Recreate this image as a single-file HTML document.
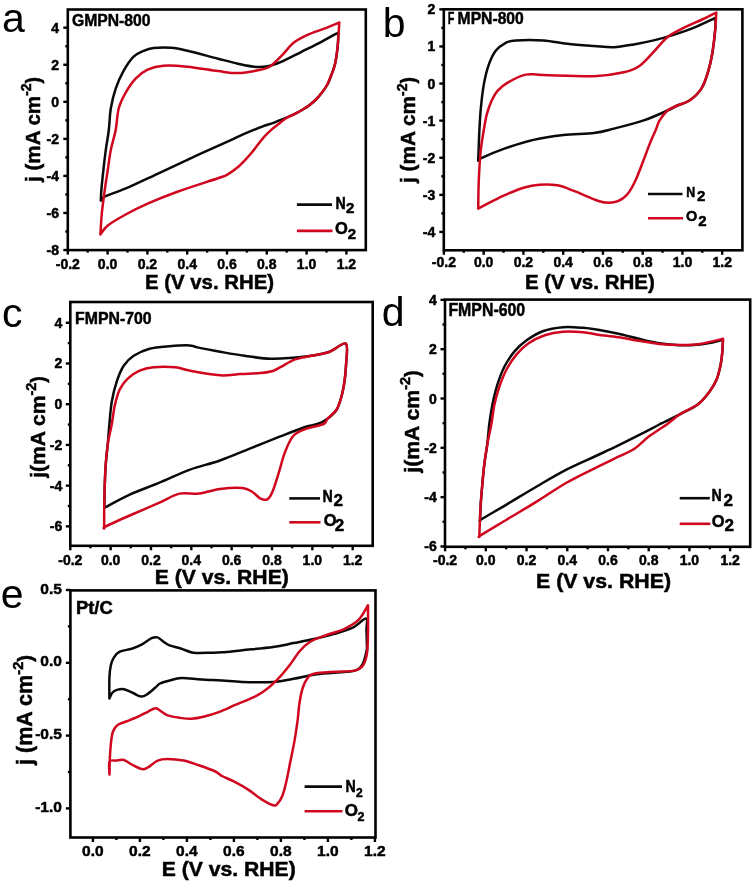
<!DOCTYPE html>
<html><head><meta charset="utf-8"><style>
html,body{margin:0;padding:0;background:#fff;}
body{width:754px;height:882px;overflow:hidden;}
svg{display:block;}
svg{will-change:transform;}
</style></head><body>
<svg width="754" height="882" viewBox="0 0 754 882">
<rect width="754" height="882" fill="#fff"/>
<line x1="67.80" y1="250.10" x2="67.80" y2="254.60" stroke="#000" stroke-width="2.4"/>
<line x1="107.60" y1="250.10" x2="107.60" y2="254.60" stroke="#000" stroke-width="2.4"/>
<line x1="147.40" y1="250.10" x2="147.40" y2="254.60" stroke="#000" stroke-width="2.4"/>
<line x1="187.20" y1="250.10" x2="187.20" y2="254.60" stroke="#000" stroke-width="2.4"/>
<line x1="227.00" y1="250.10" x2="227.00" y2="254.60" stroke="#000" stroke-width="2.4"/>
<line x1="266.80" y1="250.10" x2="266.80" y2="254.60" stroke="#000" stroke-width="2.4"/>
<line x1="306.60" y1="250.10" x2="306.60" y2="254.60" stroke="#000" stroke-width="2.4"/>
<line x1="346.40" y1="250.10" x2="346.40" y2="254.60" stroke="#000" stroke-width="2.4"/>
<line x1="87.70" y1="250.10" x2="87.70" y2="252.60" stroke="#000" stroke-width="2.4"/>
<line x1="127.50" y1="250.10" x2="127.50" y2="252.60" stroke="#000" stroke-width="2.4"/>
<line x1="167.30" y1="250.10" x2="167.30" y2="252.60" stroke="#000" stroke-width="2.4"/>
<line x1="207.10" y1="250.10" x2="207.10" y2="252.60" stroke="#000" stroke-width="2.4"/>
<line x1="246.90" y1="250.10" x2="246.90" y2="252.60" stroke="#000" stroke-width="2.4"/>
<line x1="286.70" y1="250.10" x2="286.70" y2="252.60" stroke="#000" stroke-width="2.4"/>
<line x1="326.50" y1="250.10" x2="326.50" y2="252.60" stroke="#000" stroke-width="2.4"/>
<line x1="67.80" y1="250.04" x2="63.30" y2="250.04" stroke="#000" stroke-width="2.4"/>
<line x1="67.80" y1="212.98" x2="63.30" y2="212.98" stroke="#000" stroke-width="2.4"/>
<line x1="67.80" y1="175.92" x2="63.30" y2="175.92" stroke="#000" stroke-width="2.4"/>
<line x1="67.80" y1="138.86" x2="63.30" y2="138.86" stroke="#000" stroke-width="2.4"/>
<line x1="67.80" y1="101.80" x2="63.30" y2="101.80" stroke="#000" stroke-width="2.4"/>
<line x1="67.80" y1="64.74" x2="63.30" y2="64.74" stroke="#000" stroke-width="2.4"/>
<line x1="67.80" y1="27.68" x2="63.30" y2="27.68" stroke="#000" stroke-width="2.4"/>
<line x1="67.80" y1="231.51" x2="65.30" y2="231.51" stroke="#000" stroke-width="2.4"/>
<line x1="67.80" y1="194.45" x2="65.30" y2="194.45" stroke="#000" stroke-width="2.4"/>
<line x1="67.80" y1="157.39" x2="65.30" y2="157.39" stroke="#000" stroke-width="2.4"/>
<line x1="67.80" y1="120.33" x2="65.30" y2="120.33" stroke="#000" stroke-width="2.4"/>
<line x1="67.80" y1="83.27" x2="65.30" y2="83.27" stroke="#000" stroke-width="2.4"/>
<line x1="67.80" y1="46.21" x2="65.30" y2="46.21" stroke="#000" stroke-width="2.4"/>
<path d="M100.80,200.60 C100.90,198.78 100.97,194.83 101.40,189.70 C101.83,184.57 102.67,176.43 103.40,169.80 C104.13,163.17 104.90,156.53 105.80,149.90 C106.70,143.27 107.97,136.90 108.80,130.00 C109.63,123.10 109.65,115.40 110.80,108.50 C111.95,101.60 113.55,94.90 115.70,88.60 C117.85,82.30 120.72,76.02 123.70,70.70 C126.68,65.38 130.28,60.02 133.60,56.70 C136.92,53.38 140.28,52.25 143.60,50.80 C146.92,49.35 148.87,48.50 153.50,48.00 C158.13,47.50 165.75,47.33 171.40,47.80 C177.05,48.27 179.63,48.98 187.40,50.80 C195.17,52.62 209.58,56.55 218.00,58.70 C226.42,60.85 231.93,62.37 237.90,63.70 C243.87,65.03 248.83,66.27 253.80,66.70 C258.77,67.13 263.05,67.13 267.70,66.30 C272.35,65.47 276.07,64.12 281.70,61.70 C287.33,59.28 294.88,55.12 301.50,51.80 C308.12,48.48 315.25,45.02 321.40,41.80 C327.55,38.58 335.57,34.05 338.40,32.50 C338.30,34.58 338.28,40.08 337.80,45.00 C337.32,49.92 336.63,56.83 335.50,62.00 C334.37,67.17 332.33,72.25 331.00,76.00 C329.67,79.75 329.00,81.75 327.50,84.50 C326.00,87.25 323.92,90.00 322.00,92.50 C320.08,95.00 318.17,97.33 316.00,99.50 C313.83,101.67 311.20,103.83 309.00,105.50 C306.80,107.17 305.15,108.10 302.80,109.50 C300.45,110.90 297.55,112.58 294.90,113.90 C292.25,115.22 290.25,116.00 286.90,117.40 C283.55,118.80 279.03,120.72 274.80,122.30 C270.57,123.88 265.92,125.25 261.50,126.90 C257.08,128.55 252.72,130.32 248.30,132.20 C243.88,134.08 240.05,135.92 235.00,138.20 C229.95,140.48 225.93,142.30 218.00,145.90 C210.07,149.50 197.48,155.15 187.40,159.80 C177.32,164.45 167.45,169.15 157.50,173.80 C147.55,178.45 136.48,183.90 127.70,187.70 C118.92,191.50 109.28,194.45 104.80,196.60 C100.32,198.75 101.47,199.93 100.80,200.60" fill="none" stroke="#0a0a0a" stroke-width="2.5" stroke-linejoin="round" stroke-linecap="round"/>
<path d="M100.40,234.40 C100.63,230.92 101.07,220.95 101.80,213.50 C102.53,206.05 103.80,196.98 104.80,189.70 C105.80,182.42 106.80,176.43 107.80,169.80 C108.80,163.17 109.48,156.53 110.80,149.90 C112.12,143.27 114.38,136.90 115.70,130.00 C117.02,123.10 117.03,114.73 118.70,108.50 C120.37,102.27 122.88,97.58 125.70,92.60 C128.52,87.62 131.95,82.42 135.60,78.60 C139.25,74.78 142.95,71.85 147.60,69.70 C152.25,67.55 156.87,66.20 163.50,65.70 C170.13,65.20 178.32,65.80 187.40,66.70 C196.48,67.60 209.58,70.03 218.00,71.10 C226.42,72.17 231.27,73.23 237.90,73.10 C244.53,72.97 252.50,71.37 257.80,70.30 C263.10,69.23 265.72,69.13 269.70,66.70 C273.68,64.27 277.72,59.68 281.70,55.70 C285.68,51.72 289.30,46.27 293.60,42.80 C297.90,39.33 302.53,37.22 307.50,34.90 C312.47,32.58 318.10,30.97 323.40,28.90 C328.70,26.83 336.65,23.57 339.30,22.50 C339.17,24.58 338.82,30.62 338.50,35.00 C338.18,39.38 338.08,43.52 337.40,48.80 C336.72,54.08 335.63,61.83 334.40,66.70 C333.17,71.57 331.23,74.95 330.00,78.00 C328.77,81.05 328.33,82.58 327.00,85.00 C325.67,87.42 323.83,90.08 322.00,92.50 C320.17,94.92 318.17,97.33 316.00,99.50 C313.83,101.67 311.20,103.83 309.00,105.50 C306.80,107.17 305.15,108.10 302.80,109.50 C300.45,110.90 297.55,112.52 294.90,113.90 C292.25,115.28 289.70,116.07 286.90,117.80 C284.10,119.53 280.67,122.33 278.10,124.30 C275.53,126.27 273.72,127.62 271.50,129.60 C269.28,131.58 267.02,133.77 264.80,136.20 C262.58,138.63 260.40,141.43 258.20,144.20 C256.00,146.97 253.80,150.15 251.60,152.80 C249.40,155.45 247.22,157.78 245.00,160.10 C242.78,162.42 241.25,164.28 238.30,166.70 C235.35,169.12 230.68,172.68 227.30,174.60 C223.92,176.52 226.32,175.35 218.00,178.20 C209.68,181.05 189.13,187.47 177.40,191.70 C165.67,195.93 156.22,199.80 147.60,203.60 C138.98,207.40 132.33,210.85 125.70,214.50 C119.07,218.15 112.02,222.18 107.80,225.50 C103.58,228.82 101.63,232.92 100.40,234.40" fill="none" stroke="#d0061f" stroke-width="2.5" stroke-linejoin="round" stroke-linecap="round"/>
<rect x="67.80" y="9.50" width="298.00" height="240.60" fill="none" stroke="#000" stroke-width="2.6"/>
<text class="xl" x="67.80" y="268.60" text-anchor="middle" font-family='"Liberation Sans", sans-serif' font-weight="bold" stroke="#000" stroke-width="0.5" font-size="14">-0.2</text>
<text class="xl" x="107.60" y="268.60" text-anchor="middle" font-family='"Liberation Sans", sans-serif' font-weight="bold" stroke="#000" stroke-width="0.5" font-size="14">0.0</text>
<text class="xl" x="147.40" y="268.60" text-anchor="middle" font-family='"Liberation Sans", sans-serif' font-weight="bold" stroke="#000" stroke-width="0.5" font-size="14">0.2</text>
<text class="xl" x="187.20" y="268.60" text-anchor="middle" font-family='"Liberation Sans", sans-serif' font-weight="bold" stroke="#000" stroke-width="0.5" font-size="14">0.4</text>
<text class="xl" x="227.00" y="268.60" text-anchor="middle" font-family='"Liberation Sans", sans-serif' font-weight="bold" stroke="#000" stroke-width="0.5" font-size="14">0.6</text>
<text class="xl" x="266.80" y="268.60" text-anchor="middle" font-family='"Liberation Sans", sans-serif' font-weight="bold" stroke="#000" stroke-width="0.5" font-size="14">0.8</text>
<text class="xl" x="306.60" y="268.60" text-anchor="middle" font-family='"Liberation Sans", sans-serif' font-weight="bold" stroke="#000" stroke-width="0.5" font-size="14">1.0</text>
<text class="xl" x="346.40" y="268.60" text-anchor="middle" font-family='"Liberation Sans", sans-serif' font-weight="bold" stroke="#000" stroke-width="0.5" font-size="14">1.2</text>
<text class="yl" x="59.00" y="255.04" text-anchor="end" font-family='"Liberation Sans", sans-serif' font-weight="bold" stroke="#000" stroke-width="0.5" font-size="14">-8</text>
<text class="yl" x="59.00" y="217.98" text-anchor="end" font-family='"Liberation Sans", sans-serif' font-weight="bold" stroke="#000" stroke-width="0.5" font-size="14">-6</text>
<text class="yl" x="59.00" y="180.92" text-anchor="end" font-family='"Liberation Sans", sans-serif' font-weight="bold" stroke="#000" stroke-width="0.5" font-size="14">-4</text>
<text class="yl" x="59.00" y="143.86" text-anchor="end" font-family='"Liberation Sans", sans-serif' font-weight="bold" stroke="#000" stroke-width="0.5" font-size="14">-2</text>
<text class="yl" x="59.00" y="106.80" text-anchor="end" font-family='"Liberation Sans", sans-serif' font-weight="bold" stroke="#000" stroke-width="0.5" font-size="14">0</text>
<text class="yl" x="59.00" y="69.74" text-anchor="end" font-family='"Liberation Sans", sans-serif' font-weight="bold" stroke="#000" stroke-width="0.5" font-size="14">2</text>
<text class="yl" x="59.00" y="32.68" text-anchor="end" font-family='"Liberation Sans", sans-serif' font-weight="bold" stroke="#000" stroke-width="0.5" font-size="14">4</text>
<text class="xt" x="144.90" y="288.80" font-family='"Liberation Sans", sans-serif' font-weight="bold" stroke="#000" stroke-width="0.5" font-size="21" textLength="129.2" lengthAdjust="spacingAndGlyphs">E (V vs. RHE)</text>
<text class="yt" transform="translate(40.10,181.90) rotate(-90)" x="0" y="0" font-family='"Liberation Sans", sans-serif' font-weight="bold" stroke="#000" stroke-width="0.5" font-size="20.8" textLength="104.8" lengthAdjust="spacingAndGlyphs">j (mA cm<tspan font-size="14.1" dy="-8.8">-2</tspan><tspan font-size="19.3" dy="8.8">)</tspan></text>
<text class="it" x="72.00" y="25.80" font-family='"Liberation Sans", sans-serif' font-weight="bold" stroke="#000" stroke-width="0.5" font-size="17.2" textLength="78.5" lengthAdjust="spacingAndGlyphs" xml:space="preserve">GMPN-800</text>
<line x1="296.90" y1="204.60" x2="332.00" y2="204.60" stroke="#0a0a0a" stroke-width="2.6"/>
<line x1="296.90" y1="230.90" x2="332.50" y2="230.90" stroke="#d0061f" stroke-width="2.6"/>
<text class="lg" x="335.40" y="209.20" font-family='"Liberation Sans", sans-serif' font-weight="bold" stroke="#000" stroke-width="0.5" font-size="16.5" textLength="10.25" lengthAdjust="spacingAndGlyphs">N</text>
<text class="lg" x="346.10" y="213.00" font-family='"Liberation Sans", sans-serif' font-weight="bold" stroke="#000" stroke-width="0.5" font-size="15">2</text>
<text class="lg" x="335.00" y="234.30" font-family='"Liberation Sans", sans-serif' font-weight="bold" stroke="#000" stroke-width="0.5" font-size="16.5">O</text>
<text class="lg" x="347.70" y="239.20" font-family='"Liberation Sans", sans-serif' font-weight="bold" stroke="#000" stroke-width="0.5" font-size="15">2</text>
<text class="pl" x="2.00" y="32.20" font-family='"Liberation Sans", sans-serif' font-size="41">a</text>
<line x1="443.90" y1="250.30" x2="443.90" y2="254.80" stroke="#000" stroke-width="2.4"/>
<line x1="483.66" y1="250.30" x2="483.66" y2="254.80" stroke="#000" stroke-width="2.4"/>
<line x1="523.42" y1="250.30" x2="523.42" y2="254.80" stroke="#000" stroke-width="2.4"/>
<line x1="563.18" y1="250.30" x2="563.18" y2="254.80" stroke="#000" stroke-width="2.4"/>
<line x1="602.94" y1="250.30" x2="602.94" y2="254.80" stroke="#000" stroke-width="2.4"/>
<line x1="642.70" y1="250.30" x2="642.70" y2="254.80" stroke="#000" stroke-width="2.4"/>
<line x1="682.46" y1="250.30" x2="682.46" y2="254.80" stroke="#000" stroke-width="2.4"/>
<line x1="722.22" y1="250.30" x2="722.22" y2="254.80" stroke="#000" stroke-width="2.4"/>
<line x1="463.78" y1="250.30" x2="463.78" y2="252.80" stroke="#000" stroke-width="2.4"/>
<line x1="503.54" y1="250.30" x2="503.54" y2="252.80" stroke="#000" stroke-width="2.4"/>
<line x1="543.30" y1="250.30" x2="543.30" y2="252.80" stroke="#000" stroke-width="2.4"/>
<line x1="583.06" y1="250.30" x2="583.06" y2="252.80" stroke="#000" stroke-width="2.4"/>
<line x1="622.82" y1="250.30" x2="622.82" y2="252.80" stroke="#000" stroke-width="2.4"/>
<line x1="662.58" y1="250.30" x2="662.58" y2="252.80" stroke="#000" stroke-width="2.4"/>
<line x1="702.34" y1="250.30" x2="702.34" y2="252.80" stroke="#000" stroke-width="2.4"/>
<line x1="443.80" y1="231.95" x2="439.30" y2="231.95" stroke="#000" stroke-width="2.4"/>
<line x1="443.80" y1="194.85" x2="439.30" y2="194.85" stroke="#000" stroke-width="2.4"/>
<line x1="443.80" y1="157.75" x2="439.30" y2="157.75" stroke="#000" stroke-width="2.4"/>
<line x1="443.80" y1="120.65" x2="439.30" y2="120.65" stroke="#000" stroke-width="2.4"/>
<line x1="443.80" y1="83.55" x2="439.30" y2="83.55" stroke="#000" stroke-width="2.4"/>
<line x1="443.80" y1="46.45" x2="439.30" y2="46.45" stroke="#000" stroke-width="2.4"/>
<line x1="443.80" y1="9.35" x2="439.30" y2="9.35" stroke="#000" stroke-width="2.4"/>
<line x1="443.80" y1="213.40" x2="441.30" y2="213.40" stroke="#000" stroke-width="2.4"/>
<line x1="443.80" y1="176.30" x2="441.30" y2="176.30" stroke="#000" stroke-width="2.4"/>
<line x1="443.80" y1="139.20" x2="441.30" y2="139.20" stroke="#000" stroke-width="2.4"/>
<line x1="443.80" y1="102.10" x2="441.30" y2="102.10" stroke="#000" stroke-width="2.4"/>
<line x1="443.80" y1="65.00" x2="441.30" y2="65.00" stroke="#000" stroke-width="2.4"/>
<line x1="443.80" y1="27.90" x2="441.30" y2="27.90" stroke="#000" stroke-width="2.4"/>
<path d="M478.20,160.80 C478.30,158.17 478.60,150.13 478.80,145.00 C479.00,139.87 479.07,136.08 479.40,130.00 C479.73,123.92 480.07,116.07 480.80,108.50 C481.53,100.93 482.47,91.90 483.80,84.60 C485.13,77.30 486.82,70.33 488.80,64.70 C490.78,59.07 492.88,54.45 495.70,50.80 C498.52,47.15 502.38,44.53 505.70,42.80 C509.02,41.07 509.30,40.80 515.60,40.40 C521.90,40.00 534.88,39.83 543.50,40.40 C552.12,40.97 558.88,42.87 567.30,43.80 C575.72,44.73 586.23,45.43 594.00,46.00 C601.77,46.57 607.27,47.47 613.90,47.20 C620.53,46.93 627.17,45.53 633.80,44.40 C640.43,43.27 647.07,41.98 653.70,40.40 C660.33,38.82 666.97,36.98 673.60,34.90 C680.23,32.82 686.55,30.72 693.50,27.90 C700.45,25.08 711.67,19.65 715.30,18.00 C715.30,19.82 715.78,23.10 715.30,28.90 C714.82,34.70 713.55,45.83 712.40,52.80 C711.25,59.77 710.23,64.73 708.40,70.70 C706.57,76.67 704.55,83.63 701.40,88.60 C698.25,93.57 693.48,97.68 689.50,100.50 C685.52,103.32 681.15,103.83 677.50,105.50 C673.85,107.17 673.23,108.02 667.60,110.50 C661.97,112.98 652.65,117.38 643.70,120.40 C634.75,123.42 622.18,126.50 613.90,128.60 C605.62,130.70 602.42,131.93 594.00,133.00 C585.58,134.07 573.48,133.85 563.40,135.00 C553.32,136.15 543.45,137.58 533.50,139.90 C523.55,142.22 512.32,145.90 503.70,148.90 C495.08,151.90 486.05,155.92 481.80,157.90 C477.55,159.88 478.80,160.32 478.20,160.80" fill="none" stroke="#0a0a0a" stroke-width="2.5" stroke-linejoin="round" stroke-linecap="round"/>
<path d="M478.20,208.60 C478.30,203.78 478.37,189.48 478.80,179.70 C479.23,169.92 479.97,158.18 480.80,149.90 C481.63,141.62 482.80,135.92 483.80,130.00 C484.80,124.08 485.48,119.32 486.80,114.40 C488.12,109.48 489.88,104.47 491.70,100.50 C493.52,96.53 495.03,93.58 497.70,90.60 C500.37,87.62 503.05,85.27 507.70,82.60 C512.35,79.93 519.63,75.87 525.60,74.60 C531.57,73.33 532.10,74.73 543.50,75.00 C554.90,75.27 580.62,76.65 594.00,76.20 C607.38,75.75 616.17,74.05 623.80,72.30 C631.43,70.55 634.82,69.12 639.80,65.70 C644.78,62.28 649.07,56.60 653.70,51.80 C658.33,47.00 662.63,40.88 667.60,36.90 C672.57,32.92 677.53,30.88 683.50,27.90 C689.47,24.92 697.93,21.55 703.40,19.00 C708.87,16.45 714.15,13.67 716.30,12.60 C716.13,15.32 715.95,22.20 715.30,28.90 C714.65,35.60 713.55,45.83 712.40,52.80 C711.25,59.77 710.23,64.73 708.40,70.70 C706.57,76.67 704.55,83.63 701.40,88.60 C698.25,93.57 693.48,97.68 689.50,100.50 C685.52,103.32 681.15,103.83 677.50,105.50 C673.85,107.17 670.58,108.02 667.60,110.50 C664.62,112.98 661.58,117.15 659.60,120.40 C657.62,123.65 657.35,126.08 655.70,130.00 C654.05,133.92 651.70,138.93 649.70,143.90 C647.70,148.87 646.02,153.83 643.70,159.80 C641.38,165.77 638.45,174.05 635.80,179.70 C633.15,185.35 630.78,190.12 627.80,193.70 C624.82,197.28 621.55,199.72 617.90,201.20 C614.25,202.68 609.88,202.92 605.90,202.60 C601.92,202.28 599.43,201.28 594.00,199.30 C588.57,197.32 579.40,193.03 573.30,190.70 C567.20,188.37 563.03,186.30 557.40,185.30 C551.77,184.30 545.13,184.30 539.50,184.70 C533.87,185.10 529.57,185.88 523.60,187.70 C517.63,189.52 510.33,192.62 503.70,195.60 C497.07,198.58 488.05,203.43 483.80,205.60 C479.55,207.77 479.13,208.10 478.20,208.60" fill="none" stroke="#d0061f" stroke-width="2.5" stroke-linejoin="round" stroke-linecap="round"/>
<rect x="443.80" y="9.30" width="298.60" height="241.00" fill="none" stroke="#000" stroke-width="2.6"/>
<text class="xl" x="443.90" y="266.90" text-anchor="middle" font-family='"Liberation Sans", sans-serif' font-weight="bold" stroke="#000" stroke-width="0.5" font-size="14">-0.2</text>
<text class="xl" x="483.66" y="266.90" text-anchor="middle" font-family='"Liberation Sans", sans-serif' font-weight="bold" stroke="#000" stroke-width="0.5" font-size="14">0.0</text>
<text class="xl" x="523.42" y="266.90" text-anchor="middle" font-family='"Liberation Sans", sans-serif' font-weight="bold" stroke="#000" stroke-width="0.5" font-size="14">0.2</text>
<text class="xl" x="563.18" y="266.90" text-anchor="middle" font-family='"Liberation Sans", sans-serif' font-weight="bold" stroke="#000" stroke-width="0.5" font-size="14">0.4</text>
<text class="xl" x="602.94" y="266.90" text-anchor="middle" font-family='"Liberation Sans", sans-serif' font-weight="bold" stroke="#000" stroke-width="0.5" font-size="14">0.6</text>
<text class="xl" x="642.70" y="266.90" text-anchor="middle" font-family='"Liberation Sans", sans-serif' font-weight="bold" stroke="#000" stroke-width="0.5" font-size="14">0.8</text>
<text class="xl" x="682.46" y="266.90" text-anchor="middle" font-family='"Liberation Sans", sans-serif' font-weight="bold" stroke="#000" stroke-width="0.5" font-size="14">1.0</text>
<text class="xl" x="722.22" y="266.90" text-anchor="middle" font-family='"Liberation Sans", sans-serif' font-weight="bold" stroke="#000" stroke-width="0.5" font-size="14">1.2</text>
<text class="yl" x="435.20" y="236.95" text-anchor="end" font-family='"Liberation Sans", sans-serif' font-weight="bold" stroke="#000" stroke-width="0.5" font-size="14">-4</text>
<text class="yl" x="435.20" y="199.85" text-anchor="end" font-family='"Liberation Sans", sans-serif' font-weight="bold" stroke="#000" stroke-width="0.5" font-size="14">-3</text>
<text class="yl" x="435.20" y="162.75" text-anchor="end" font-family='"Liberation Sans", sans-serif' font-weight="bold" stroke="#000" stroke-width="0.5" font-size="14">-2</text>
<text class="yl" x="435.20" y="125.65" text-anchor="end" font-family='"Liberation Sans", sans-serif' font-weight="bold" stroke="#000" stroke-width="0.5" font-size="14">-1</text>
<text class="yl" x="435.20" y="88.55" text-anchor="end" font-family='"Liberation Sans", sans-serif' font-weight="bold" stroke="#000" stroke-width="0.5" font-size="14">0</text>
<text class="yl" x="435.20" y="51.45" text-anchor="end" font-family='"Liberation Sans", sans-serif' font-weight="bold" stroke="#000" stroke-width="0.5" font-size="14">1</text>
<text class="yl" x="435.20" y="14.35" text-anchor="end" font-family='"Liberation Sans", sans-serif' font-weight="bold" stroke="#000" stroke-width="0.5" font-size="14">2</text>
<text class="xt" x="524.90" y="288.80" font-family='"Liberation Sans", sans-serif' font-weight="bold" stroke="#000" stroke-width="0.5" font-size="21" textLength="129.9" lengthAdjust="spacingAndGlyphs">E (V vs. RHE)</text>
<text class="yt" transform="translate(415.40,183.00) rotate(-90)" x="0" y="0" font-family='"Liberation Sans", sans-serif' font-weight="bold" stroke="#000" stroke-width="0.5" font-size="20.8" textLength="106.0" lengthAdjust="spacingAndGlyphs">j (mA cm<tspan font-size="14.1" dy="-8.8">-2</tspan><tspan font-size="19.3" dy="8.8">)</tspan></text>
<text class="it" x="447.80" y="23.80" font-family='"Liberation Sans", sans-serif' font-weight="bold" stroke="#000" stroke-width="0.5" font-size="17" textLength="6.6" lengthAdjust="spacingAndGlyphs" xml:space="preserve">F</text>
<text class="it" x="457.60" y="23.80" font-family='"Liberation Sans", sans-serif' font-weight="bold" stroke="#000" stroke-width="0.5" font-size="17" textLength="66.2" lengthAdjust="spacingAndGlyphs" xml:space="preserve">MPN-800</text>
<line x1="648.00" y1="194.00" x2="682.50" y2="194.00" stroke="#0a0a0a" stroke-width="2.6"/>
<line x1="648.00" y1="218.20" x2="683.00" y2="218.20" stroke="#d0061f" stroke-width="2.6"/>
<text class="lg" x="686.30" y="197.30" font-family='"Liberation Sans", sans-serif' font-weight="bold" stroke="#000" stroke-width="0.5" font-size="14.5" textLength="9.00" lengthAdjust="spacingAndGlyphs">N</text>
<text class="lg" x="697.10" y="201.40" font-family='"Liberation Sans", sans-serif' font-weight="bold" stroke="#000" stroke-width="0.5" font-size="15">2</text>
<text class="lg" x="686.00" y="221.40" font-family='"Liberation Sans", sans-serif' font-weight="bold" stroke="#000" stroke-width="0.5" font-size="14.5">O</text>
<text class="lg" x="698.20" y="225.60" font-family='"Liberation Sans", sans-serif' font-weight="bold" stroke="#000" stroke-width="0.5" font-size="15">2</text>
<text class="pl" x="382.80" y="36.70" font-family='"Liberation Sans", sans-serif' font-size="41">b</text>
<line x1="70.30" y1="545.80" x2="70.30" y2="550.30" stroke="#000" stroke-width="2.4"/>
<line x1="110.64" y1="545.80" x2="110.64" y2="550.30" stroke="#000" stroke-width="2.4"/>
<line x1="150.98" y1="545.80" x2="150.98" y2="550.30" stroke="#000" stroke-width="2.4"/>
<line x1="191.32" y1="545.80" x2="191.32" y2="550.30" stroke="#000" stroke-width="2.4"/>
<line x1="231.66" y1="545.80" x2="231.66" y2="550.30" stroke="#000" stroke-width="2.4"/>
<line x1="272.00" y1="545.80" x2="272.00" y2="550.30" stroke="#000" stroke-width="2.4"/>
<line x1="312.34" y1="545.80" x2="312.34" y2="550.30" stroke="#000" stroke-width="2.4"/>
<line x1="352.68" y1="545.80" x2="352.68" y2="550.30" stroke="#000" stroke-width="2.4"/>
<line x1="90.47" y1="545.80" x2="90.47" y2="548.30" stroke="#000" stroke-width="2.4"/>
<line x1="130.81" y1="545.80" x2="130.81" y2="548.30" stroke="#000" stroke-width="2.4"/>
<line x1="171.15" y1="545.80" x2="171.15" y2="548.30" stroke="#000" stroke-width="2.4"/>
<line x1="211.49" y1="545.80" x2="211.49" y2="548.30" stroke="#000" stroke-width="2.4"/>
<line x1="251.83" y1="545.80" x2="251.83" y2="548.30" stroke="#000" stroke-width="2.4"/>
<line x1="292.17" y1="545.80" x2="292.17" y2="548.30" stroke="#000" stroke-width="2.4"/>
<line x1="332.51" y1="545.80" x2="332.51" y2="548.30" stroke="#000" stroke-width="2.4"/>
<line x1="70.30" y1="526.36" x2="65.80" y2="526.36" stroke="#000" stroke-width="2.4"/>
<line x1="70.30" y1="485.64" x2="65.80" y2="485.64" stroke="#000" stroke-width="2.4"/>
<line x1="70.30" y1="444.92" x2="65.80" y2="444.92" stroke="#000" stroke-width="2.4"/>
<line x1="70.30" y1="404.20" x2="65.80" y2="404.20" stroke="#000" stroke-width="2.4"/>
<line x1="70.30" y1="363.48" x2="65.80" y2="363.48" stroke="#000" stroke-width="2.4"/>
<line x1="70.30" y1="322.76" x2="65.80" y2="322.76" stroke="#000" stroke-width="2.4"/>
<line x1="70.30" y1="506.00" x2="67.80" y2="506.00" stroke="#000" stroke-width="2.4"/>
<line x1="70.30" y1="465.28" x2="67.80" y2="465.28" stroke="#000" stroke-width="2.4"/>
<line x1="70.30" y1="424.56" x2="67.80" y2="424.56" stroke="#000" stroke-width="2.4"/>
<line x1="70.30" y1="383.84" x2="67.80" y2="383.84" stroke="#000" stroke-width="2.4"/>
<line x1="70.30" y1="343.12" x2="67.80" y2="343.12" stroke="#000" stroke-width="2.4"/>
<path d="M104.30,508.00 C104.38,503.95 104.55,491.07 104.80,483.70 C105.05,476.33 105.30,470.43 105.80,463.80 C106.30,457.17 107.20,450.53 107.80,443.90 C108.40,437.27 108.73,431.07 109.40,424.00 C110.07,416.93 110.58,408.57 111.80,401.50 C113.02,394.43 114.72,387.57 116.70,381.60 C118.68,375.63 120.87,370.02 123.70,365.70 C126.53,361.38 129.38,358.53 133.70,355.70 C138.02,352.87 143.63,350.28 149.60,348.70 C155.57,347.12 162.87,346.75 169.50,346.20 C176.13,345.65 184.77,345.20 189.40,345.40 C194.03,345.60 192.20,346.35 197.30,347.40 C202.40,348.45 212.15,350.30 220.00,351.70 C227.85,353.10 235.95,354.62 244.40,355.80 C252.85,356.98 262.58,358.47 270.70,358.80 C278.82,359.13 286.33,358.30 293.10,357.80 C299.87,357.30 305.22,356.82 311.30,355.80 C317.38,354.78 323.85,353.73 329.60,351.70 C335.35,349.67 343.03,341.73 345.80,343.60 C348.57,345.47 346.13,359.68 346.20,362.90 C345.97,365.60 345.53,373.70 344.80,379.10 C344.07,384.50 343.15,390.23 341.80,395.30 C340.45,400.37 339.08,405.60 336.70,409.50 C334.32,413.40 330.72,416.28 327.50,418.70 C324.28,421.12 321.12,422.62 317.40,424.00 C313.68,425.38 311.28,424.97 305.20,427.00 C299.12,429.03 290.03,432.63 280.90,436.20 C271.77,439.77 260.55,444.35 250.40,448.40 C240.25,452.45 230.17,456.93 220.00,460.50 C209.83,464.07 199.48,466.10 189.40,469.80 C179.32,473.50 169.45,478.57 159.50,482.70 C149.55,486.83 138.48,490.62 129.70,494.60 C120.92,498.58 111.03,504.37 106.80,506.60 C102.57,508.83 104.72,507.77 104.30,508.00" fill="none" stroke="#0a0a0a" stroke-width="2.5" stroke-linejoin="round" stroke-linecap="round"/>
<path d="M104.20,528.40 C104.20,524.92 104.10,514.95 104.20,507.50 C104.30,500.05 104.53,490.98 104.80,483.70 C105.07,476.42 105.30,470.43 105.80,463.80 C106.30,457.17 106.80,450.53 107.80,443.90 C108.80,437.27 110.63,430.42 111.80,424.00 C112.97,417.58 113.48,411.15 114.80,405.40 C116.12,399.65 117.55,393.97 119.70,389.50 C121.85,385.03 124.38,381.75 127.70,378.60 C131.02,375.45 135.30,372.50 139.60,370.60 C143.90,368.70 147.53,367.77 153.50,367.20 C159.47,366.63 169.42,366.63 175.40,367.20 C181.38,367.77 181.97,369.25 189.40,370.60 C196.83,371.95 211.52,374.73 220.00,375.30 C228.48,375.87 233.53,374.38 240.30,374.00 C247.07,373.62 255.18,373.50 260.60,373.00 C266.02,372.50 269.42,372.02 272.80,371.00 C276.18,369.98 277.18,368.83 280.90,366.90 C284.62,364.97 290.03,361.25 295.10,359.40 C300.17,357.55 305.55,357.08 311.30,355.80 C317.05,354.52 323.85,353.73 329.60,351.70 C335.35,349.67 343.03,341.73 345.80,343.60 C348.57,345.47 346.13,359.68 346.20,362.90 C345.97,365.60 345.53,373.70 344.80,379.10 C344.07,384.50 343.15,390.23 341.80,395.30 C340.45,400.37 339.08,405.60 336.70,409.50 C334.32,413.40 329.70,416.28 327.50,418.70 C325.30,421.12 327.22,422.27 323.50,424.00 C319.78,425.73 310.28,427.07 305.20,429.10 C300.12,431.13 296.38,432.32 293.00,436.20 C289.62,440.08 287.27,446.32 284.90,452.40 C282.53,458.48 280.82,466.27 278.80,472.70 C276.78,479.13 274.65,486.60 272.80,491.00 C270.95,495.40 269.73,497.82 267.70,499.10 C265.67,500.38 263.13,499.88 260.60,498.70 C258.07,497.52 255.55,493.80 252.50,492.00 C249.45,490.20 247.72,488.40 242.30,487.90 C236.88,487.40 227.17,488.05 220.00,489.00 C212.83,489.95 206.07,492.83 199.30,493.60 C192.53,494.37 186.03,492.10 179.40,493.60 C172.77,495.10 167.78,498.95 159.50,502.60 C151.22,506.25 138.65,511.53 129.70,515.50 C120.75,519.47 110.05,524.25 105.80,526.40 C101.55,528.55 104.47,528.07 104.20,528.40" fill="none" stroke="#d0061f" stroke-width="2.5" stroke-linejoin="round" stroke-linecap="round"/>
<rect x="70.30" y="302.00" width="302.40" height="243.80" fill="none" stroke="#000" stroke-width="2.6"/>
<text class="xl" x="70.30" y="564.70" text-anchor="middle" font-family='"Liberation Sans", sans-serif' font-weight="bold" stroke="#000" stroke-width="0.5" font-size="14">-0.2</text>
<text class="xl" x="110.64" y="564.70" text-anchor="middle" font-family='"Liberation Sans", sans-serif' font-weight="bold" stroke="#000" stroke-width="0.5" font-size="14">0.0</text>
<text class="xl" x="150.98" y="564.70" text-anchor="middle" font-family='"Liberation Sans", sans-serif' font-weight="bold" stroke="#000" stroke-width="0.5" font-size="14">0.2</text>
<text class="xl" x="191.32" y="564.70" text-anchor="middle" font-family='"Liberation Sans", sans-serif' font-weight="bold" stroke="#000" stroke-width="0.5" font-size="14">0.4</text>
<text class="xl" x="231.66" y="564.70" text-anchor="middle" font-family='"Liberation Sans", sans-serif' font-weight="bold" stroke="#000" stroke-width="0.5" font-size="14">0.6</text>
<text class="xl" x="272.00" y="564.70" text-anchor="middle" font-family='"Liberation Sans", sans-serif' font-weight="bold" stroke="#000" stroke-width="0.5" font-size="14">0.8</text>
<text class="xl" x="312.34" y="564.70" text-anchor="middle" font-family='"Liberation Sans", sans-serif' font-weight="bold" stroke="#000" stroke-width="0.5" font-size="14">1.0</text>
<text class="xl" x="352.68" y="564.70" text-anchor="middle" font-family='"Liberation Sans", sans-serif' font-weight="bold" stroke="#000" stroke-width="0.5" font-size="14">1.2</text>
<text class="yl" x="62.30" y="531.36" text-anchor="end" font-family='"Liberation Sans", sans-serif' font-weight="bold" stroke="#000" stroke-width="0.5" font-size="14">-6</text>
<text class="yl" x="62.30" y="490.64" text-anchor="end" font-family='"Liberation Sans", sans-serif' font-weight="bold" stroke="#000" stroke-width="0.5" font-size="14">-4</text>
<text class="yl" x="62.30" y="449.92" text-anchor="end" font-family='"Liberation Sans", sans-serif' font-weight="bold" stroke="#000" stroke-width="0.5" font-size="14">-2</text>
<text class="yl" x="62.30" y="409.20" text-anchor="end" font-family='"Liberation Sans", sans-serif' font-weight="bold" stroke="#000" stroke-width="0.5" font-size="14">0</text>
<text class="yl" x="62.30" y="368.48" text-anchor="end" font-family='"Liberation Sans", sans-serif' font-weight="bold" stroke="#000" stroke-width="0.5" font-size="14">2</text>
<text class="yl" x="62.30" y="327.76" text-anchor="end" font-family='"Liberation Sans", sans-serif' font-weight="bold" stroke="#000" stroke-width="0.5" font-size="14">4</text>
<text class="xt" x="154.80" y="583.80" font-family='"Liberation Sans", sans-serif' font-weight="bold" stroke="#000" stroke-width="0.5" font-size="21" textLength="134.0" lengthAdjust="spacingAndGlyphs">E (V vs. RHE)</text>
<text class="yt" transform="translate(44.90,477.80) rotate(-90)" x="0" y="0" font-family='"Liberation Sans", sans-serif' font-weight="bold" stroke="#000" stroke-width="0.5" font-size="20.8" textLength="101.5" lengthAdjust="spacingAndGlyphs">j(mA cm<tspan font-size="14.1" dy="-8.8">-2</tspan><tspan font-size="19.3" dy="8.8">)</tspan></text>
<text class="it" x="75.00" y="323.50" font-family='"Liberation Sans", sans-serif' font-weight="bold" stroke="#000" stroke-width="0.5" font-size="17" textLength="76.6" lengthAdjust="spacingAndGlyphs" xml:space="preserve">FMPN-700</text>
<line x1="289.30" y1="498.40" x2="320.00" y2="498.40" stroke="#0a0a0a" stroke-width="2.6"/>
<line x1="289.30" y1="522.30" x2="320.50" y2="522.30" stroke="#d0061f" stroke-width="2.6"/>
<text class="lg" x="322.60" y="501.60" font-family='"Liberation Sans", sans-serif' font-weight="bold" stroke="#000" stroke-width="0.5" font-size="16.5" textLength="10.25" lengthAdjust="spacingAndGlyphs">N</text>
<text class="lg" x="333.60" y="505.60" font-family='"Liberation Sans", sans-serif' font-weight="bold" stroke="#000" stroke-width="0.5" font-size="17">2</text>
<text class="lg" x="323.80" y="525.60" font-family='"Liberation Sans", sans-serif' font-weight="bold" stroke="#000" stroke-width="0.5" font-size="16.5">O</text>
<text class="lg" x="334.70" y="530.50" font-family='"Liberation Sans", sans-serif' font-weight="bold" stroke="#000" stroke-width="0.5" font-size="17">2</text>
<text class="pl" x="2.00" y="326.70" font-family='"Liberation Sans", sans-serif' font-size="41">c</text>
<line x1="445.10" y1="546.80" x2="445.10" y2="551.30" stroke="#000" stroke-width="2.4"/>
<line x1="485.82" y1="546.80" x2="485.82" y2="551.30" stroke="#000" stroke-width="2.4"/>
<line x1="526.54" y1="546.80" x2="526.54" y2="551.30" stroke="#000" stroke-width="2.4"/>
<line x1="567.26" y1="546.80" x2="567.26" y2="551.30" stroke="#000" stroke-width="2.4"/>
<line x1="607.98" y1="546.80" x2="607.98" y2="551.30" stroke="#000" stroke-width="2.4"/>
<line x1="648.70" y1="546.80" x2="648.70" y2="551.30" stroke="#000" stroke-width="2.4"/>
<line x1="689.42" y1="546.80" x2="689.42" y2="551.30" stroke="#000" stroke-width="2.4"/>
<line x1="730.14" y1="546.80" x2="730.14" y2="551.30" stroke="#000" stroke-width="2.4"/>
<line x1="465.46" y1="546.80" x2="465.46" y2="549.30" stroke="#000" stroke-width="2.4"/>
<line x1="506.18" y1="546.80" x2="506.18" y2="549.30" stroke="#000" stroke-width="2.4"/>
<line x1="546.90" y1="546.80" x2="546.90" y2="549.30" stroke="#000" stroke-width="2.4"/>
<line x1="587.62" y1="546.80" x2="587.62" y2="549.30" stroke="#000" stroke-width="2.4"/>
<line x1="628.34" y1="546.80" x2="628.34" y2="549.30" stroke="#000" stroke-width="2.4"/>
<line x1="669.06" y1="546.80" x2="669.06" y2="549.30" stroke="#000" stroke-width="2.4"/>
<line x1="709.78" y1="546.80" x2="709.78" y2="549.30" stroke="#000" stroke-width="2.4"/>
<line x1="445.00" y1="546.46" x2="440.50" y2="546.46" stroke="#000" stroke-width="2.4"/>
<line x1="445.00" y1="497.14" x2="440.50" y2="497.14" stroke="#000" stroke-width="2.4"/>
<line x1="445.00" y1="447.82" x2="440.50" y2="447.82" stroke="#000" stroke-width="2.4"/>
<line x1="445.00" y1="398.50" x2="440.50" y2="398.50" stroke="#000" stroke-width="2.4"/>
<line x1="445.00" y1="349.18" x2="440.50" y2="349.18" stroke="#000" stroke-width="2.4"/>
<line x1="445.00" y1="299.86" x2="440.50" y2="299.86" stroke="#000" stroke-width="2.4"/>
<line x1="445.00" y1="521.80" x2="442.50" y2="521.80" stroke="#000" stroke-width="2.4"/>
<line x1="445.00" y1="472.48" x2="442.50" y2="472.48" stroke="#000" stroke-width="2.4"/>
<line x1="445.00" y1="423.16" x2="442.50" y2="423.16" stroke="#000" stroke-width="2.4"/>
<line x1="445.00" y1="373.84" x2="442.50" y2="373.84" stroke="#000" stroke-width="2.4"/>
<line x1="445.00" y1="324.52" x2="442.50" y2="324.52" stroke="#000" stroke-width="2.4"/>
<path d="M480.00,521.00 C480.12,518.27 480.32,510.68 480.70,504.60 C481.08,498.52 481.70,491.22 482.30,484.50 C482.90,477.78 483.47,471.02 484.30,464.30 C485.13,457.58 486.47,450.92 487.30,444.20 C488.13,437.48 488.45,430.57 489.30,424.00 C490.15,417.43 491.05,411.35 492.40,404.80 C493.75,398.25 495.38,391.08 497.40,384.70 C499.42,378.32 501.65,372.05 504.50,366.50 C507.35,360.95 510.82,355.77 514.50,351.40 C518.18,347.03 521.88,343.67 526.60,340.30 C531.32,336.93 536.75,333.38 542.80,331.20 C548.85,329.02 556.18,327.77 562.90,327.20 C569.62,326.63 577.25,327.37 583.10,327.80 C588.95,328.23 592.12,328.82 598.00,329.80 C603.88,330.78 611.60,332.20 618.40,333.70 C625.20,335.20 631.98,337.20 638.80,338.80 C645.62,340.40 652.48,342.22 659.30,343.30 C666.12,344.38 672.90,345.10 679.70,345.30 C686.50,345.50 694.65,344.97 700.10,344.50 C705.55,344.03 708.58,343.28 712.40,342.50 C716.22,341.72 721.23,340.25 723.00,339.80 C722.87,342.02 722.62,348.83 722.20,353.10 C721.78,357.37 721.45,360.97 720.50,365.40 C719.55,369.83 718.37,375.28 716.50,379.70 C714.63,384.12 712.37,387.82 709.30,391.90 C706.23,395.98 703.03,400.45 698.10,404.20 C693.17,407.95 685.48,411.35 679.70,414.40 C673.92,417.45 666.80,420.82 663.40,422.50 C660.00,424.18 663.40,422.38 659.30,424.50 C655.20,426.62 645.62,431.72 638.80,435.20 C631.98,438.68 625.20,442.10 618.40,445.40 C611.60,448.70 606.58,451.00 598.00,455.00 C589.42,459.00 577.12,464.15 566.90,469.40 C556.68,474.65 546.77,480.63 536.70,486.50 C526.63,492.37 515.57,499.23 506.50,504.60 C497.43,509.97 486.72,515.97 482.30,518.70 C477.88,521.43 480.38,520.62 480.00,521.00" fill="none" stroke="#0a0a0a" stroke-width="2.5" stroke-linejoin="round" stroke-linecap="round"/>
<path d="M479.30,537.00 C479.40,534.30 479.67,526.20 479.90,520.80 C480.13,515.40 480.30,510.65 480.70,504.60 C481.10,498.55 481.70,491.22 482.30,484.50 C482.90,477.78 483.47,471.02 484.30,464.30 C485.13,457.58 486.12,450.92 487.30,444.20 C488.48,437.48 490.22,430.57 491.40,424.00 C492.58,417.43 493.07,411.02 494.40,404.80 C495.73,398.58 497.38,392.58 499.40,386.70 C501.42,380.82 503.63,374.88 506.50,369.50 C509.37,364.12 512.92,358.77 516.60,354.40 C520.28,350.03 523.90,346.48 528.60,343.30 C533.30,340.12 539.08,337.22 544.80,335.30 C550.52,333.38 556.52,332.30 562.90,331.80 C569.28,331.30 577.25,331.82 583.10,332.30 C588.95,332.78 592.12,333.88 598.00,334.70 C603.88,335.52 611.60,336.18 618.40,337.20 C625.20,338.22 631.98,339.68 638.80,340.80 C645.62,341.92 652.48,343.22 659.30,343.90 C666.12,344.58 672.90,344.90 679.70,344.90 C686.50,344.90 692.88,344.92 700.10,343.90 C707.32,342.88 719.18,339.65 723.00,338.80 C722.87,341.18 722.62,348.67 722.20,353.10 C721.78,357.53 721.45,360.97 720.50,365.40 C719.55,369.83 718.37,375.28 716.50,379.70 C714.63,384.12 712.37,387.82 709.30,391.90 C706.23,395.98 703.03,400.45 698.10,404.20 C693.17,407.95 684.82,411.10 679.70,414.40 C674.58,417.70 672.50,420.35 667.40,424.00 C662.30,427.65 654.53,432.22 649.10,436.30 C643.67,440.38 639.92,445.10 634.80,448.50 C629.68,451.90 624.53,453.68 618.40,456.70 C612.27,459.72 606.58,462.30 598.00,466.60 C589.42,470.90 577.12,476.67 566.90,482.50 C556.68,488.33 546.77,495.40 536.70,501.60 C526.63,507.80 515.73,514.15 506.50,519.70 C497.27,525.25 485.83,532.02 481.30,534.90 C476.77,537.78 479.63,536.65 479.30,537.00" fill="none" stroke="#d0061f" stroke-width="2.5" stroke-linejoin="round" stroke-linecap="round"/>
<rect x="445.00" y="299.60" width="305.20" height="247.20" fill="none" stroke="#000" stroke-width="2.6"/>
<text class="xl" x="445.10" y="565.20" text-anchor="middle" font-family='"Liberation Sans", sans-serif' font-weight="bold" stroke="#000" stroke-width="0.5" font-size="14">-0.2</text>
<text class="xl" x="485.82" y="565.20" text-anchor="middle" font-family='"Liberation Sans", sans-serif' font-weight="bold" stroke="#000" stroke-width="0.5" font-size="14">0.0</text>
<text class="xl" x="526.54" y="565.20" text-anchor="middle" font-family='"Liberation Sans", sans-serif' font-weight="bold" stroke="#000" stroke-width="0.5" font-size="14">0.2</text>
<text class="xl" x="567.26" y="565.20" text-anchor="middle" font-family='"Liberation Sans", sans-serif' font-weight="bold" stroke="#000" stroke-width="0.5" font-size="14">0.4</text>
<text class="xl" x="607.98" y="565.20" text-anchor="middle" font-family='"Liberation Sans", sans-serif' font-weight="bold" stroke="#000" stroke-width="0.5" font-size="14">0.6</text>
<text class="xl" x="648.70" y="565.20" text-anchor="middle" font-family='"Liberation Sans", sans-serif' font-weight="bold" stroke="#000" stroke-width="0.5" font-size="14">0.8</text>
<text class="xl" x="689.42" y="565.20" text-anchor="middle" font-family='"Liberation Sans", sans-serif' font-weight="bold" stroke="#000" stroke-width="0.5" font-size="14">1.0</text>
<text class="xl" x="730.14" y="565.20" text-anchor="middle" font-family='"Liberation Sans", sans-serif' font-weight="bold" stroke="#000" stroke-width="0.5" font-size="14">1.2</text>
<text class="yl" x="436.80" y="551.46" text-anchor="end" font-family='"Liberation Sans", sans-serif' font-weight="bold" stroke="#000" stroke-width="0.5" font-size="14">-6</text>
<text class="yl" x="436.80" y="502.14" text-anchor="end" font-family='"Liberation Sans", sans-serif' font-weight="bold" stroke="#000" stroke-width="0.5" font-size="14">-4</text>
<text class="yl" x="436.80" y="452.82" text-anchor="end" font-family='"Liberation Sans", sans-serif' font-weight="bold" stroke="#000" stroke-width="0.5" font-size="14">-2</text>
<text class="yl" x="436.80" y="403.50" text-anchor="end" font-family='"Liberation Sans", sans-serif' font-weight="bold" stroke="#000" stroke-width="0.5" font-size="14">0</text>
<text class="yl" x="436.80" y="354.18" text-anchor="end" font-family='"Liberation Sans", sans-serif' font-weight="bold" stroke="#000" stroke-width="0.5" font-size="14">2</text>
<text class="yl" x="436.80" y="304.86" text-anchor="end" font-family='"Liberation Sans", sans-serif' font-weight="bold" stroke="#000" stroke-width="0.5" font-size="14">4</text>
<text class="xt" x="536.00" y="588.10" font-family='"Liberation Sans", sans-serif' font-weight="bold" stroke="#000" stroke-width="0.5" font-size="21" textLength="135.0" lengthAdjust="spacingAndGlyphs">E (V vs. RHE)</text>
<text class="yt" transform="translate(418.90,472.70) rotate(-90)" x="0" y="0" font-family='"Liberation Sans", sans-serif' font-weight="bold" stroke="#000" stroke-width="0.5" font-size="20.8" textLength="102.2" lengthAdjust="spacingAndGlyphs">j(mA cm<tspan font-size="14.1" dy="-8.8">-2</tspan><tspan font-size="19.3" dy="8.8">)</tspan></text>
<text class="it" x="448.40" y="315.60" font-family='"Liberation Sans", sans-serif' font-weight="bold" stroke="#000" stroke-width="0.5" font-size="17.5" textLength="76.8" lengthAdjust="spacingAndGlyphs" xml:space="preserve">FMPN-600</text>
<line x1="679.70" y1="498.20" x2="709.80" y2="498.20" stroke="#0a0a0a" stroke-width="2.6"/>
<line x1="679.70" y1="523.80" x2="710.30" y2="523.80" stroke="#d0061f" stroke-width="2.6"/>
<text class="lg" x="711.50" y="501.30" font-family='"Liberation Sans", sans-serif' font-weight="bold" stroke="#000" stroke-width="0.5" font-size="16.5" textLength="10.25" lengthAdjust="spacingAndGlyphs">N</text>
<text class="lg" x="723.60" y="506.40" font-family='"Liberation Sans", sans-serif' font-weight="bold" stroke="#000" stroke-width="0.5" font-size="17">2</text>
<text class="lg" x="711.80" y="527.00" font-family='"Liberation Sans", sans-serif' font-weight="bold" stroke="#000" stroke-width="0.5" font-size="16.5">O</text>
<text class="lg" x="724.50" y="530.50" font-family='"Liberation Sans", sans-serif' font-weight="bold" stroke="#000" stroke-width="0.5" font-size="17">2</text>
<text class="pl" x="381.80" y="326.00" font-family='"Liberation Sans", sans-serif' font-size="41">d</text>
<line x1="92.90" y1="837.50" x2="92.90" y2="842.00" stroke="#000" stroke-width="2.4"/>
<line x1="139.90" y1="837.50" x2="139.90" y2="842.00" stroke="#000" stroke-width="2.4"/>
<line x1="186.90" y1="837.50" x2="186.90" y2="842.00" stroke="#000" stroke-width="2.4"/>
<line x1="233.90" y1="837.50" x2="233.90" y2="842.00" stroke="#000" stroke-width="2.4"/>
<line x1="280.90" y1="837.50" x2="280.90" y2="842.00" stroke="#000" stroke-width="2.4"/>
<line x1="327.90" y1="837.50" x2="327.90" y2="842.00" stroke="#000" stroke-width="2.4"/>
<line x1="374.90" y1="837.50" x2="374.90" y2="842.00" stroke="#000" stroke-width="2.4"/>
<line x1="116.40" y1="837.50" x2="116.40" y2="840.00" stroke="#000" stroke-width="2.4"/>
<line x1="163.40" y1="837.50" x2="163.40" y2="840.00" stroke="#000" stroke-width="2.4"/>
<line x1="210.40" y1="837.50" x2="210.40" y2="840.00" stroke="#000" stroke-width="2.4"/>
<line x1="257.40" y1="837.50" x2="257.40" y2="840.00" stroke="#000" stroke-width="2.4"/>
<line x1="304.40" y1="837.50" x2="304.40" y2="840.00" stroke="#000" stroke-width="2.4"/>
<line x1="351.40" y1="837.50" x2="351.40" y2="840.00" stroke="#000" stroke-width="2.4"/>
<line x1="70.40" y1="808.40" x2="65.90" y2="808.40" stroke="#000" stroke-width="2.4"/>
<line x1="70.40" y1="735.60" x2="65.90" y2="735.60" stroke="#000" stroke-width="2.4"/>
<line x1="70.40" y1="662.80" x2="65.90" y2="662.80" stroke="#000" stroke-width="2.4"/>
<line x1="70.40" y1="590.00" x2="65.90" y2="590.00" stroke="#000" stroke-width="2.4"/>
<line x1="70.40" y1="772.00" x2="67.90" y2="772.00" stroke="#000" stroke-width="2.4"/>
<line x1="70.40" y1="699.20" x2="67.90" y2="699.20" stroke="#000" stroke-width="2.4"/>
<line x1="70.40" y1="626.40" x2="67.90" y2="626.40" stroke="#000" stroke-width="2.4"/>
<path d="M109.40,698.40 C109.40,694.92 109.17,682.97 109.40,677.50 C109.63,672.03 110.07,668.92 110.80,665.60 C111.53,662.28 112.32,659.92 113.80,657.60 C115.28,655.28 116.72,653.18 119.70,651.70 C122.68,650.22 128.05,649.87 131.70,648.70 C135.35,647.53 138.28,646.45 141.60,644.70 C144.92,642.95 148.95,639.42 151.60,638.20 C154.25,636.98 155.52,636.82 157.50,637.40 C159.48,637.98 161.50,640.38 163.50,641.70 C165.50,643.02 166.52,644.13 169.50,645.30 C172.48,646.47 177.43,647.47 181.40,648.70 C185.37,649.93 188.33,652.03 193.30,652.70 C198.27,653.37 206.42,652.77 211.20,652.70 C215.98,652.63 216.80,652.72 222.00,652.30 C227.20,651.88 233.88,651.07 242.40,650.20 C250.92,649.33 264.58,648.28 273.10,647.10 C281.62,645.92 286.70,644.45 293.50,643.10 C300.30,641.75 307.10,640.53 313.90,639.00 C320.70,637.47 327.83,635.78 334.30,633.90 C340.77,632.02 347.42,630.25 352.70,627.70 C357.98,625.15 363.70,618.22 366.00,618.60 C368.30,618.98 366.33,624.90 366.50,630.00 C366.67,635.10 366.92,646.00 367.00,649.20 C366.32,651.58 364.93,659.93 362.90,663.50 C360.87,667.07 359.57,669.07 354.80,670.60 C350.03,672.13 341.12,672.02 334.30,672.70 C327.48,673.38 320.70,673.68 313.90,674.70 C307.10,675.72 300.30,677.60 293.50,678.80 C286.70,680.00 281.62,681.38 273.10,681.90 C264.58,682.42 250.92,682.13 242.40,681.90 C233.88,681.67 228.85,680.90 222.00,680.50 C215.15,680.10 208.07,679.92 201.30,679.50 C194.53,679.08 186.68,677.83 181.40,678.00 C176.12,678.17 173.17,679.58 169.60,680.50 C166.03,681.42 162.35,682.33 160.00,683.50 C157.65,684.67 157.55,685.77 155.50,687.50 C153.45,689.23 150.08,692.38 147.70,693.90 C145.32,695.42 143.65,696.75 141.20,696.60 C138.75,696.45 135.88,694.23 133.00,693.00 C130.12,691.77 126.43,689.77 123.90,689.20 C121.37,688.63 119.70,689.05 117.80,689.60 C115.90,690.15 113.90,691.03 112.50,692.50 C111.10,693.97 109.92,697.42 109.40,698.40" fill="none" stroke="#0a0a0a" stroke-width="2.5" stroke-linejoin="round" stroke-linecap="round"/>
<path d="M109.50,774.50 C109.55,772.05 109.57,764.93 109.80,759.80 C110.03,754.67 110.38,748.38 110.90,743.70 C111.42,739.02 111.73,734.85 112.90,731.70 C114.07,728.55 115.40,726.62 117.90,724.80 C120.40,722.98 124.25,722.30 127.90,720.80 C131.55,719.30 136.50,717.30 139.80,715.80 C143.10,714.30 145.05,713.07 147.70,711.80 C150.35,710.53 153.37,708.20 155.70,708.20 C158.03,708.20 159.72,710.60 161.70,711.80 C163.68,713.00 164.62,714.40 167.60,715.40 C170.58,716.40 175.62,717.23 179.60,717.80 C183.58,718.37 187.53,718.97 191.50,718.80 C195.47,718.63 198.75,717.97 203.40,716.80 C208.05,715.63 214.08,713.78 219.40,711.80 C224.72,709.82 230.20,707.05 235.30,704.90 C240.40,702.75 245.42,701.03 250.00,698.90 C254.58,696.77 258.28,695.28 262.80,692.10 C267.32,688.92 272.67,684.23 277.10,679.80 C281.53,675.37 285.65,670.27 289.40,665.50 C293.15,660.73 296.20,655.12 299.60,651.20 C303.00,647.28 305.72,644.55 309.80,642.00 C313.88,639.45 318.32,638.10 324.10,635.90 C329.88,633.70 338.72,631.52 344.50,628.80 C350.28,626.08 354.88,623.52 358.80,619.60 C362.72,615.68 366.47,607.68 368.00,605.30 C368.00,609.88 368.17,624.80 368.00,632.80 C367.83,640.80 367.85,647.85 367.00,653.30 C366.15,658.75 364.93,662.62 362.90,665.50 C360.87,668.38 359.57,669.57 354.80,670.60 C350.03,671.63 341.12,671.18 334.30,671.70 C327.48,672.22 318.32,672.68 313.90,673.70 C309.48,674.72 309.67,675.42 307.80,677.80 C305.93,680.18 304.07,683.92 302.70,688.00 C301.33,692.08 300.45,696.90 299.60,702.30 C298.75,707.70 298.45,713.97 297.60,720.40 C296.75,726.83 295.70,734.08 294.50,740.90 C293.30,747.72 291.77,754.50 290.40,761.30 C289.03,768.10 287.65,775.92 286.30,781.70 C284.95,787.48 283.83,792.25 282.30,796.00 C280.77,799.75 278.63,802.67 277.10,804.20 C275.57,805.73 275.48,805.88 273.10,805.20 C270.72,804.52 266.88,802.65 262.80,800.10 C258.72,797.55 253.35,792.97 248.60,789.90 C243.85,786.83 238.73,784.02 234.30,781.70 C229.87,779.38 225.15,777.70 222.00,776.00 C218.85,774.30 219.15,773.25 215.40,771.50 C211.65,769.75 204.82,767.32 199.50,765.50 C194.18,763.68 188.82,761.68 183.50,760.60 C178.18,759.52 171.90,759.00 167.60,759.00 C163.30,759.00 161.02,759.18 157.70,760.60 C154.38,762.02 150.35,766.08 147.70,767.50 C145.05,768.92 144.45,769.60 141.80,769.10 C139.15,768.60 134.78,766.02 131.80,764.50 C128.82,762.98 126.55,760.65 123.90,760.00 C121.25,759.35 118.30,760.33 115.90,760.60 C113.50,760.87 110.57,759.28 109.50,761.60 C108.43,763.92 109.50,772.35 109.50,774.50" fill="none" stroke="#d0061f" stroke-width="2.5" stroke-linejoin="round" stroke-linecap="round"/>
<rect x="70.40" y="590.40" width="305.10" height="247.10" fill="none" stroke="#000" stroke-width="2.6"/>
<text class="xl" x="92.90" y="855.90" text-anchor="middle" font-family='"Liberation Sans", sans-serif' font-weight="bold" stroke="#000" stroke-width="0.5" font-size="15.5">0.0</text>
<text class="xl" x="139.90" y="855.90" text-anchor="middle" font-family='"Liberation Sans", sans-serif' font-weight="bold" stroke="#000" stroke-width="0.5" font-size="15.5">0.2</text>
<text class="xl" x="186.90" y="855.90" text-anchor="middle" font-family='"Liberation Sans", sans-serif' font-weight="bold" stroke="#000" stroke-width="0.5" font-size="15.5">0.4</text>
<text class="xl" x="233.90" y="855.90" text-anchor="middle" font-family='"Liberation Sans", sans-serif' font-weight="bold" stroke="#000" stroke-width="0.5" font-size="15.5">0.6</text>
<text class="xl" x="280.90" y="855.90" text-anchor="middle" font-family='"Liberation Sans", sans-serif' font-weight="bold" stroke="#000" stroke-width="0.5" font-size="15.5">0.8</text>
<text class="xl" x="327.90" y="855.90" text-anchor="middle" font-family='"Liberation Sans", sans-serif' font-weight="bold" stroke="#000" stroke-width="0.5" font-size="15.5">1.0</text>
<text class="xl" x="374.90" y="855.90" text-anchor="middle" font-family='"Liberation Sans", sans-serif' font-weight="bold" stroke="#000" stroke-width="0.5" font-size="15.5">1.2</text>
<text class="yl" x="61.90" y="812.00" text-anchor="end" font-family='"Liberation Sans", sans-serif' font-weight="bold" stroke="#000" stroke-width="0.5" font-size="15.5">-1.0</text>
<text class="yl" x="61.90" y="739.20" text-anchor="end" font-family='"Liberation Sans", sans-serif' font-weight="bold" stroke="#000" stroke-width="0.5" font-size="15.5">-0.5</text>
<text class="yl" x="61.90" y="666.40" text-anchor="end" font-family='"Liberation Sans", sans-serif' font-weight="bold" stroke="#000" stroke-width="0.5" font-size="15.5">0.0</text>
<text class="yl" x="61.90" y="593.60" text-anchor="end" font-family='"Liberation Sans", sans-serif' font-weight="bold" stroke="#000" stroke-width="0.5" font-size="15.5">0.5</text>
<text class="xt" x="161.70" y="876.00" font-family='"Liberation Sans", sans-serif' font-weight="bold" stroke="#000" stroke-width="0.5" font-size="21" textLength="134.0" lengthAdjust="spacingAndGlyphs">E (V vs. RHE)</text>
<text class="yt" transform="translate(32.40,765.00) rotate(-90)" x="0" y="0" font-family='"Liberation Sans", sans-serif' font-weight="bold" stroke="#000" stroke-width="0.5" font-size="21.8" textLength="110.0" lengthAdjust="spacingAndGlyphs">j (mA cm<tspan font-size="14.8" dy="-9.3">-2</tspan><tspan font-size="20.3" dy="9.3">)</tspan></text>
<text class="it" x="75.90" y="613.80" font-family='"Liberation Sans", sans-serif' font-weight="bold" stroke="#000" stroke-width="0.5" font-size="17.8" textLength="36.8" lengthAdjust="spacingAndGlyphs" xml:space="preserve">Pt/C</text>
<line x1="304.60" y1="786.60" x2="342.00" y2="786.60" stroke="#0a0a0a" stroke-width="2.6"/>
<line x1="304.60" y1="811.30" x2="342.50" y2="811.30" stroke="#d0061f" stroke-width="2.6"/>
<text class="lg" x="345.40" y="791.60" font-family='"Liberation Sans", sans-serif' font-weight="bold" stroke="#000" stroke-width="0.5" font-size="16.5" textLength="10.25" lengthAdjust="spacingAndGlyphs">N</text>
<text class="lg" x="356.00" y="796.70" font-family='"Liberation Sans", sans-serif' font-weight="bold" stroke="#000" stroke-width="0.5" font-size="12">2</text>
<text class="lg" x="344.80" y="816.20" font-family='"Liberation Sans", sans-serif' font-weight="bold" stroke="#000" stroke-width="0.5" font-size="17">O</text>
<text class="lg" x="357.50" y="820.50" font-family='"Liberation Sans", sans-serif' font-weight="bold" stroke="#000" stroke-width="0.5" font-size="12.5">2</text>
<text class="pl" x="0.80" y="607.70" font-family='"Liberation Sans", sans-serif' font-size="41">e</text>
</svg>
</body></html>
